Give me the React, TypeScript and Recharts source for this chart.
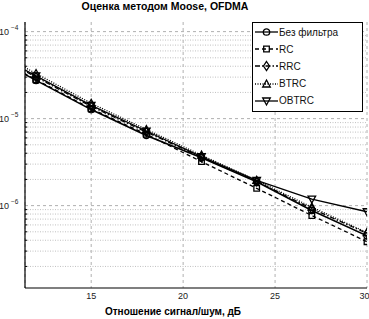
import React from "react";
import {
  LineChart,
  Line,
  XAxis,
  YAxis,
  CartesianGrid,
  ReferenceLine,
} from "recharts";

const snr = [9, 12, 15, 18, 21, 24, 27, 30];
const noFilter = [6.1e-5, 2.75e-5, 1.27e-5, 6.4e-6, 3.55e-6, 1.88e-6, 8.8e-7, 4.5e-7];
const rc = [6.2e-5, 2.8e-5, 1.3e-5, 6.6e-6, 3.2e-6, 1.58e-6, 7.7e-7, 3.85e-7];
const rrc = [6.6e-5, 3.0e-5, 1.38e-5, 7.0e-6, 3.6e-6, 1.9e-6, 9.2e-7, 4.8e-7];
const btrc = [7.3e-5, 3.3e-5, 1.5e-5, 7.5e-6, 3.8e-6, 1.95e-6, 9.6e-7, 4.9e-7];
const obtrc = [6.8e-5, 3.1e-5, 1.42e-5, 7.2e-6, 3.65e-6, 1.95e-6, 1.19e-6, 8.5e-7];

const xTicks = [15, 20, 25, 30];
const yTicks = [1e-6, 1e-5, 1e-4];
const yMinor = [
  2e-7, 3e-7, 4e-7, 5e-7, 6e-7, 7e-7, 8e-7, 9e-7,
  2e-6, 3e-6, 4e-6, 5e-6, 6e-6, 7e-6, 8e-6, 9e-6,
  2e-5, 3e-5, 4e-5, 5e-5, 6e-5, 7e-5, 8e-5, 9e-5,
];
const X_DOMAIN = [11.4, 30];
const Y_DOMAIN = [1.13e-7, 1.29e-4];

const data = snr.map((s, i) => ({
  snr: s,
  noFilter: noFilter[i],
  rc: rc[i],
  rrc: rrc[i],
  btrc: btrc[i],
  obtrc: obtrc[i],
}));

type Marker = "circle" | "square" | "diamond" | "up" | "down";

const SERIES: { key: string; name: string; dash?: string; marker: Marker }[] = [
  { key: "noFilter", name: "Без фильтра", marker: "circle" },
  { key: "rc", name: "RC", dash: "4 3", marker: "square" },
  { key: "rrc", name: "RRC", dash: "5 2 1.5 2", marker: "diamond" },
  { key: "btrc", name: "BTRC", dash: "1 1.5", marker: "up" },
  { key: "obtrc", name: "OBTRC", marker: "down" },
];

function markerPath(m: Marker, cx: number, cy: number) {
  const r = 3.2;
  switch (m) {
    case "square":
      return `M${cx - 2.8},${cy - 2.8}h5.6v5.6h-5.6Z`;
    case "diamond":
      return `M${cx},${cy - 4.5}L${cx + 3},${cy}L${cx},${cy + 4.5}L${cx - 3},${cy}Z`;
    case "up":
      return `M${cx},${cy - 4}L${cx + 3.8},${cy + 3}L${cx - 3.8},${cy + 3}Z`;
    case "down":
      return `M${cx},${cy + 4}L${cx + 3.8},${cy - 3}L${cx - 3.8},${cy - 3}Z`;
    default:
      return `M${cx - r},${cy}a${r},${r} 0 1,0 ${2 * r},0a${r},${r} 0 1,0 ${-2 * r},0`;
  }
}

const makeDot = (m: Marker) => (props: any) => {
  const { cx, cy, index, payload } = props;
  if (payload.snr < X_DOMAIN[0]) return <g key={`d${index}`} />;
  return (
    <path
      key={`d${index}`}
      d={markerPath(m, cx, cy)}
      fill="none"
      stroke="#000"
      strokeWidth={1.3}
    />
  );
};

const YTick = (props: any) => {
  const { y, payload } = props;
  const exp = Math.round(Math.log10(payload.value));
  return (
    <g fill="#222" fontFamily="Liberation Sans, Arial, sans-serif">
      <text x={-1} y={y + 3.5} fontSize={9}>
        10
      </text>
      <text x={11} y={y - 2} fontSize={6.5}>
        {`\u2212${-exp}`}
      </text>
    </g>
  );
};

export default function App() {
  const font = "Liberation Sans, Arial, sans-serif";
  return (
    <div
      style={{
        position: "absolute",
        left: 0,
        top: 0,
        width: 369,
        height: 319,
        background: "#fff",
        fontFamily: font,
        overflow: "hidden",
      }}
    >
      <div
        style={{
          position: "absolute",
          left: 0,
          width: 330,
          top: 0,
          lineHeight: "12px",
          textAlign: "center",
          fontSize: 10.5,
          fontWeight: "bold",
          color: "#000",
        }}
      >
        Оценка методом Moose, OFDMA
      </div>
      <LineChart
        width={369}
        height={319}
        data={data}
        margin={{ top: 22, right: 2, left: 0, bottom: 0 }}
      >
        <CartesianGrid
          horizontal={false}
          stroke="#b0b0b0"
          strokeDasharray="3 3"
        />
        {yMinor.map((v) => (
          <ReferenceLine
            key={`m${v}`}
            y={v}
            stroke="#c0c0c0"
            strokeDasharray="1 1.5"
          />
        ))}
        {yTicks.map((v) => (
          <ReferenceLine
            key={`t${v}`}
            y={v}
            stroke="#b0b0b0"
            strokeDasharray="3 3"
          />
        ))}
        {yMinor.map((v) => (
          <ReferenceLine
            key={`k${v}`}
            segment={[
              { x: X_DOMAIN[0], y: v },
              { x: X_DOMAIN[0] + 0.12, y: v },
            ]}
            stroke="#000"
            strokeWidth={1}
          />
        ))}
        <XAxis
          dataKey="snr"
          type="number"
          domain={X_DOMAIN}
          ticks={xTicks}
          allowDataOverflow
          height={31}
          tickLine={false}
          tickSize={3}
          tick={{ fontSize: 9, fill: "#222", fontFamily: font }}
          axisLine={{ stroke: "#000", strokeWidth: 1.2 }}
        />
        <XAxis
          xAxisId="top"
          orientation="top"
          type="number"
          domain={X_DOMAIN}
          height={0}
          tick={false}
          tickLine={false}
          axisLine={{ stroke: "#000", strokeWidth: 1.2 }}
        />
        <YAxis
          scale="log"
          type="number"
          domain={Y_DOMAIN}
          ticks={yTicks}
          allowDataOverflow
          width={25}
          tickLine={false}
          tick={<YTick />}
          axisLine={{ stroke: "#000", strokeWidth: 1.2 }}
        />
        <YAxis
          yAxisId="right"
          orientation="right"
          width={0}
          tick={false}
          tickLine={false}
          axisLine={{ stroke: "#000", strokeWidth: 1.2 }}
        />
        {SERIES.map((s) => (
          <Line
            key={s.key}
            dataKey={s.key}
            name={s.name}
            type="linear"
            stroke="#000"
            strokeWidth={s.key === "noFilter" ? 1.6 : 1.3}
            strokeDasharray={s.dash}
            dot={makeDot(s.marker)}
            isAnimationActive={false}
          />
        ))}
      </LineChart>
      <div
        style={{
          position: "absolute",
          left: 252,
          top: 22,
          width: 109,
          height: 88,
          border: "1px solid #000",
          background: "#fff",
        }}
      >
        {SERIES.map((s, i) => (
          <div
            key={s.key}
            style={{
              position: "absolute",
              left: 1,
              top: 2 + i * 17.2,
              height: 14,
              display: "flex",
              alignItems: "center",
            }}
          >
            <svg width={24} height={14}>
              <line
                x1={1}
                x2={24}
                y1={7}
                y2={7}
                stroke="#000"
                strokeWidth={1.3}
                strokeDasharray={s.dash}
              />
              <path
                d={markerPath(s.marker, 12.5, 7)}
                fill="none"
                stroke="#000"
                strokeWidth={1.3}
              />
            </svg>
            <span style={{ fontSize: 10, color: "#111", marginLeft: 1 }}>
              {s.name}
            </span>
          </div>
        ))}
      </div>
      <div
        style={{
          position: "absolute",
          left: 100,
          width: 146,
          top: 306,
          textAlign: "center",
          fontSize: 10,
          fontWeight: "bold",
          color: "#000",
        }}
      >
        Отношение сигнал/шум, дБ
      </div>
    </div>
  );
}
